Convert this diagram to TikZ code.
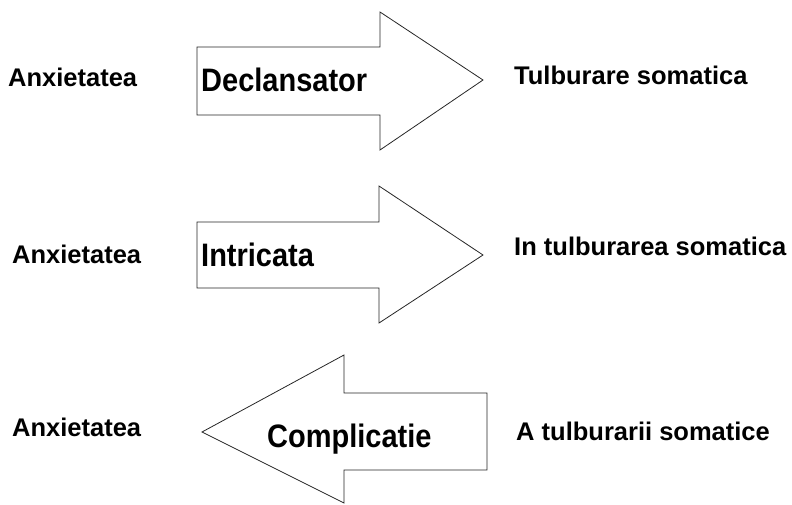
\documentclass[tikz,border=0pt]{standalone}
\usepackage{fontspec}
\setmainfont{Liberation Sans}
\begin{document}
\begin{tikzpicture}[x=1pt,y=-1pt,
  arrowshape/.style={draw=black!85,line width=0.8pt,line join=miter},
  small/.style={anchor=base west,inner sep=0pt,font=\bfseries\fontsize{25.5}{30}\selectfont},
  big/.style={anchor=base west,inner sep=0pt,yscale=1.12,font=\bfseries\fontsize{29}{34}\selectfont}]
\useasboundingbox (0,0) rectangle (792,505);
% arrows
\draw[arrowshape] (197,47) -- (380,47) -- (380,12) -- (483,80) -- (380,150) -- (380,115) -- (197,115) -- cycle;
\draw[arrowshape] (197,222) -- (379,222) -- (379,186) -- (483,255) -- (379,323) -- (379,288) -- (197,288) -- cycle;
\draw[arrowshape] (487,393) -- (344,393) -- (344,355) -- (202,432) -- (344,503) -- (344,470) -- (487,470) -- cycle;
% labels
\node[small] (a1) at (8,87) {Anxietatea};
\node[big] (d1) at (201,92) {Declansator};
\node[small] (t1) at (514,85) {Tulburare somatica};
\node[small] (a2) at (12,263) {Anxietatea};
\node[big] (d2) at (201,266) {Intricata};
\node[small] (t2) at (514,255) {In tulburarea somatica};
\node[small] (a3) at (12,436) {Anxietatea};
\node[big] (d3) at (267,447) {Complicatie};
\node[small] (t3) at (516,440) {A tulburarii somatice};
\end{tikzpicture}
\end{document}
